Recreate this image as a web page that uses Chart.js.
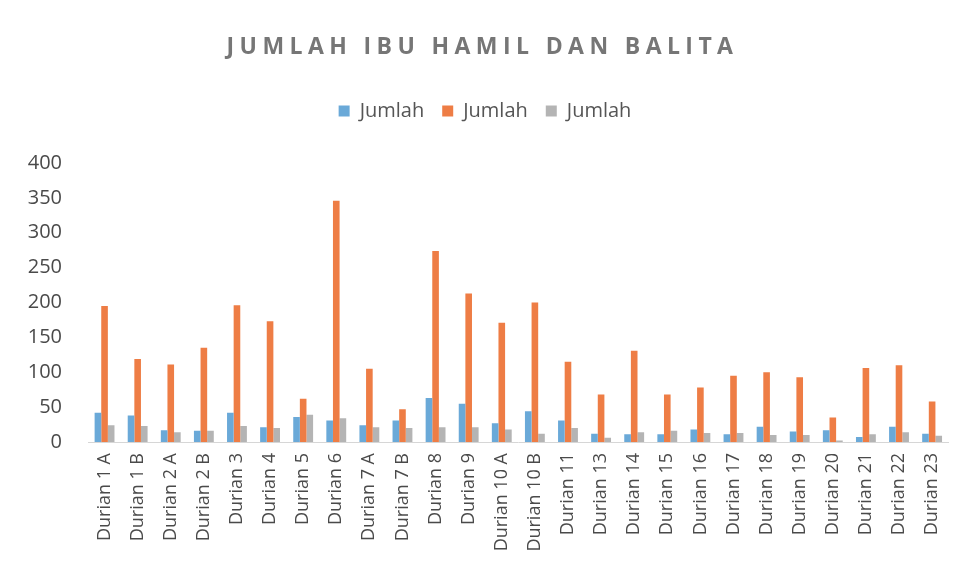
<!DOCTYPE html>
<html>
<head>
<meta charset="utf-8">
<script src="https://cdn.jsdelivr.net/npm/chart.js@4.4.0/dist/chart.umd.min.js"></script>
<style>
  html, body { margin: 0; padding: 0; background: #fff; }
  #wrap { position: relative; width: 965px; height: 585px; }
  #title {
    position: absolute; left: 0; top: 29px; width: 965px; text-align: center;
    font-family: 'Open Sans', sans-serif; font-weight: bold; font-size: 23px;
    letter-spacing: 5.4px; color: #767676;
  }
</style>
</head>
<body>
<div id="wrap">
  <div id="title">JUMLAH IBU HAMIL DAN BALITA</div>
  <canvas id="chart" width="965" height="585"></canvas>
</div>
<script>
const categories = ['Durian 1 A', 'Durian 1 B', 'Durian 2 A', 'Durian 2 B', 'Durian 3', 'Durian 4',
    'Durian 5', 'Durian 6', 'Durian 7 A', 'Durian 7 B', 'Durian 8', 'Durian 9', 'Durian 10 A',
    'Durian 10 B', 'Durian 11', 'Durian 13', 'Durian 14', 'Durian 15', 'Durian 16', 'Durian 17',
    'Durian 18', 'Durian 19', 'Durian 20', 'Durian 21', 'Durian 22', 'Durian 23'];

const seriesBlue   = [42, 38, 17, 16, 42, 21, 36, 31, 24, 31, 63, 55, 27, 44, 31, 12, 11, 11, 18, 11, 22, 15, 17, 7, 22, 12];
const seriesOrange = [195, 119, 111, 135, 196, 173, 62, 346, 105, 47, 274, 213, 171, 200, 115, 68, 131, 68, 78, 95, 100, 93, 35, 106, 110, 58];
const seriesGray   = [24, 23, 14, 16, 23, 20, 39, 34, 21, 20, 21, 21, 18, 12, 20, 6, 14, 16, 13, 13, 10, 10, 2, 11, 14, 9];

const yTicks = [0, 50, 100, 150, 200, 250, 300, 350, 400];

const FONT = "'Open Sans', sans-serif";

// extra space under the legend, like the spreadsheet layout
const legendGap = {
    id: 'legendGap',
    beforeInit(chart) {
        const origFit = chart.legend.fit;
        chart.legend.fit = function () {
            origFit.bind(chart.legend)();
            this.height += 32;
        };
    }
};

const ctx = document.getElementById('chart').getContext('2d');
new Chart(ctx, {
    type: 'bar',
    data: {
        labels: categories,
        datasets: [
            { label: 'Jumlah', data: seriesBlue, backgroundColor: '#6aa9d8' },
            { label: 'Jumlah', data: seriesOrange, backgroundColor: '#ee7d45' },
            { label: 'Jumlah', data: seriesGray, backgroundColor: '#b4b4b4' }
        ]
    },
    plugins: [legendGap],
    options: {
        responsive: false,
        animation: false,
        layout: { padding: { top: 83, left: 20, right: 15, bottom: 0 } },
        datasets: {
            bar: { categoryPercentage: 0.6, barPercentage: 1.0 }
        },
        plugins: {
            legend: {
                position: 'top',
                labels: {
                    boxWidth: 11, boxHeight: 11, padding: 18,
                    color: '#555', font: { family: FONT, size: 20 }
                }
            },
            tooltip: { enabled: false }
        },
        scales: {
            x: {
                grid: { display: false, drawTicks: false },
                border: { color: '#d6d6d6' },
                ticks: {
                    minRotation: 90, maxRotation: 90, autoSkip: false, padding: 11,
                    color: '#4a4a4a', font: { family: FONT, size: 18 }
                },
                afterFit: (scale) => { scale.height = 143; }
            },
            y: {
                min: 0, max: 400,
                afterBuildTicks: (scale) => { scale.ticks = yTicks.map(v => ({ value: v })); },
                grid: { display: false },
                border: { display: false },
                ticks: {
                    padding: 18, color: '#4a4a4a', font: { family: FONT, size: 20 }
                },
                afterFit: (scale) => { scale.width = 68; }
            }
        }
    }
});
</script>
</body>
</html>
